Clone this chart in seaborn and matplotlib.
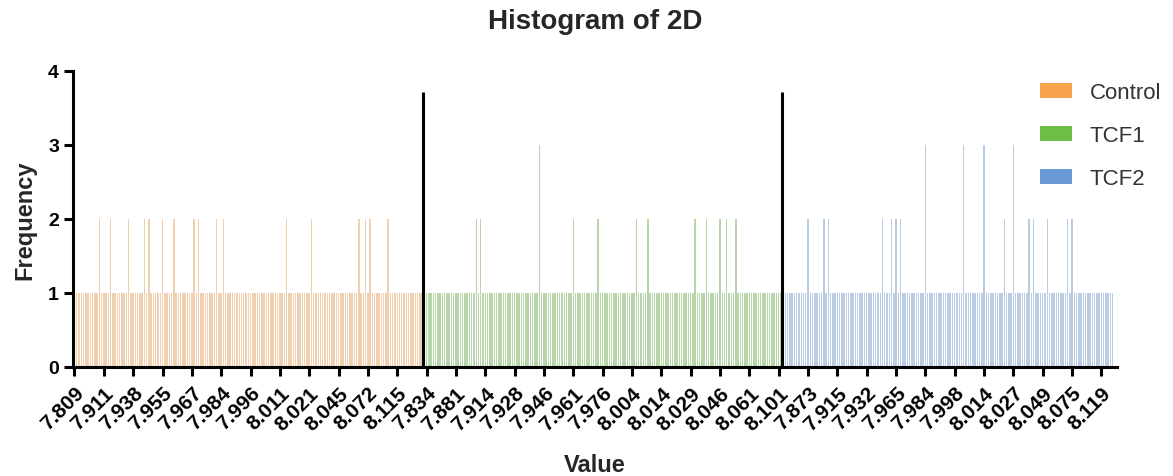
import seaborn as sns
import pandas as pd
import matplotlib.pyplot as plt
from matplotlib.patches import Patch

groups = ["Control", "TCF1", "TCF2"]
colors = ["#F8A24C", "#6CBE45", "#6A9AD6"]

# frequency of each distinct value (sorted), one digit per bar
control_freq = ("1111111111" "1211112111" "1111211111" "1212111112" "1111211111"
                "1112121111" "1112112111" "1111111111" "1111111111" "1111211111"
                "1111121111" "1111111111" "1111112112" "1211111112" "1111111111"
                "11111")
tcf1_freq = ("1111111111" "1111111111" "1112121111" "1111111111" "1111111111"
             "1311111111" "1111112111" "1111111211" "1111111111" "1111211112"
             "1111111111" "1111111111" "2111121111" "1211211121" "1111111111"
             "111111111")
tcf2_freq = ("1111111111" "1211111121" "2111111111" "1111111111" "1111211121"
             "2121111111" "1113111111" "1111111111" "3111111113" "1111111121"
             "1131111112" "1211111211" "1111112121" "1111111111" "1111111")

tick_labels = ["7.809", "7.911", "7.938", "7.955", "7.967", "7.984", "7.996", "8.011",
               "8.021", "8.045", "8.072", "8.115",
               "7.834", "7.881", "7.914", "7.928", "7.946", "7.961", "7.976", "8.004",
               "8.014", "8.029", "8.046", "8.061", "8.101",
               "7.873", "7.915", "7.932", "7.965", "7.984", "7.998", "8.014", "8.027",
               "8.049", "8.075", "8.119"]
tick_every = 13

rows = []
for g, freqs in zip(groups, [control_freq, tcf1_freq, tcf2_freq]):
    for ch in freqs:
        rows.append({"idx": len(rows), "freq": int(ch), "group": g})
df = pd.DataFrame(rows)
n = len(df)

sns.set_theme(style="ticks")
plt.rcParams["font.family"] = ["Liberation Sans", "DejaVu Sans"]

fig = plt.figure(figsize=(11.73, 4.77), dpi=100)
ax = fig.add_axes([73 / 1173, 1 - 368 / 477, 1044 / 1173, 296 / 477])

sns.barplot(df, x="idx", y="freq", hue="group", hue_order=groups, palette=colors,
            dodge=False, width=0.65, alpha=0.5, linewidth=0, legend=False, ax=ax)

# separators between the data sets
bounds = [len(control_freq) - 0.5, len(control_freq) + len(tcf1_freq) - 0.5]
ax.vlines(bounds, 0, 3.72, color="black", linewidth=2.2)

ax.set_xlim(-0.66, n + 0.9)
ax.set_ylim(0, 4)
ax.set_yticks([0, 1, 2, 3, 4])
ax.set_xticks(range(0, n, tick_every))
ax.set_xticklabels(tick_labels, rotation=45, ha="right", rotation_mode="anchor",
                   fontsize=15, fontweight="bold")
for t in ax.get_yticklabels():
    t.set_fontsize(14)
    t.set_fontweight("bold")

sns.despine(ax=ax)
for side in ["left", "bottom"]:
    ax.spines[side].set_linewidth(2.2)
    ax.spines[side].set_color("black")
ax.tick_params(axis="both", length=6.5, width=2.2, color="black", labelcolor="black")
ax.tick_params(axis="x", pad=5)

ax.set_xlabel("Value", fontsize=17, fontweight="bold")
ax.set_ylabel("Frequency", fontsize=17, fontweight="bold")
ax.xaxis.set_label_coords(0.5, -0.328)
ax.xaxis.label.set_va("center")
ax.yaxis.set_label_coords(-0.046, 0.5)
ax.yaxis.label.set_va("center")

fig.text(595 / 1173, 1 - 22 / 477, "Histogram of 2D", ha="center", va="center",
         fontsize=20, fontweight="bold")

handles = [Patch(facecolor=c, edgecolor="none") for c in colors]
fig.legend(handles, groups, loc="upper left", bbox_to_anchor=(1040 / 1173, 1 - 83 / 477),
           frameon=False, fontsize=16, handlelength=1.45, handleheight=0.65,
           labelspacing=1.0, handletextpad=0.8, borderpad=0, borderaxespad=0,
           labelcolor="#333333")

fig.savefig("out.png", dpi=100)
